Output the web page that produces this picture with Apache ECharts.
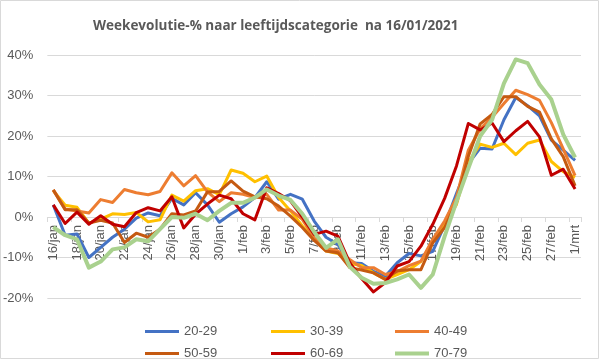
<!DOCTYPE html>
<html>
<head>
<meta charset="utf-8">
<script src="https://cdn.jsdelivr.net/npm/echarts@6/dist/echarts.min.js"></script>
<style>
html,body{margin:0;padding:0;background:#fff;}
#chart{width:599px;height:359px;}
</style>
</head>
<body>
<div id="chart"></div>
<script>
var categories = ['16/jan','17/jan','18/jan','19/jan','20/jan','21/jan','22/jan','23/jan','24/jan','25/jan','26/jan','27/jan','28/jan','29/jan','30/jan','31/jan',
  '1/feb','2/feb','3/feb','4/feb','5/feb','6/feb','7/feb','8/feb','9/feb','10/feb','11/feb','12/feb','13/feb','14/feb','15/feb','16/feb','17/feb','18/feb','19/feb','20/feb','21/feb','22/feb','23/feb','24/feb','25/feb','26/feb','27/feb','28/feb','1/mrt'];

var seriesNames = ['20-29','30-39','40-49','50-59','60-69','70-79'];

var v2029 = [3,-4.5,-4.2,-10,-7.5,-5,-3,-0.3,1,0.3,4.6,3,6,3,-1.3,0.8,2.5,4.8,8.7,4.4,5.6,4.4,-1,-5,-6.8,-11.3,-11.5,-13.4,-14.6,-11.3,-9,-9.6,-8.5,-2,5.8,13.2,17,16.8,24,29.5,27.5,25,19,16.5,14];
var v3039 = [6.5,2.9,2.4,-1.5,-0.5,0.8,0.6,1.1,-1.2,-0.7,5.4,3.9,6.5,7,5.5,11.6,10.8,8.7,10.1,4.8,1.5,-2.2,-5.5,-8.4,-9,-11.5,-12,-13.8,-15.4,-14.2,-13,-11,-6,-2,3.1,13.5,18,17.2,18.2,15.4,18.2,19,13.7,11.2,9.8];
var v4049 = [6.7,2,1.5,1,4.3,3.6,6.8,6,5.5,6.3,10.9,7.7,10.2,6.2,3.8,6,5.6,4.8,5.6,1.7,1.7,-0.6,-5.2,-7.6,-8.4,-10.5,-12.5,-12.5,-14.2,-13.5,-12,-10.9,-5.5,-1,4.8,16.5,21.8,24.6,28,31.3,30.2,28.8,23.3,16.8,10.2];
var v5059 = [6.7,1.8,1.8,-1.5,-0.8,-1.5,-6.3,-4,-5,-3,0.8,0.5,1.5,6.2,6.3,8.9,6.4,5,4.5,2.7,0.2,-2.6,-5.8,-8.4,-8.8,-12.5,-13.1,-13.8,-15.4,-13.3,-13,-13,-6.4,-2.6,3.6,15,23,25.3,29.7,29.7,27.3,25.9,19.3,14.9,7.7];
var v6069 = [3,-1.6,1.2,-1.8,0.3,-1.8,-2.4,1.1,2.3,1.5,5,-2.7,0.7,3.2,5.4,4.5,0.8,-0.7,7.2,5.8,4,0,-4.3,-3.5,-4.7,-11.3,-15.2,-18.5,-16.2,-12.1,-11,-7.2,-1.8,4.6,12.6,23.1,21.5,23.2,18.6,21.3,23.6,19.8,10.3,11.8,6.9];
var v7079 = [-2.5,-4.5,-5.5,-12.5,-11,-8,-7.5,-5.5,-6,-3,0,-0.2,0.8,-0.8,1.5,3.5,3.5,4.8,6.8,5.3,4.2,0.8,-3.7,-7.6,-5.5,-12.3,-15,-16.5,-16.3,-15.4,-14.2,-17.5,-14.2,-4.8,3.8,12,20,24,33,38.9,38,32.7,29,20.4,14.7];

var yTicks = [-20,-10,0,10,20,30,40];

var seriesValues = [v2029, v3039, v4049, v5059, v6069, v7079];
var colors = ['#4472C4','#FFC000','#ED7D31','#C55A11','#C00000','#A9D18E'];
var widths = [3,3,3,3,3,4];

var chart = echarts.init(document.getElementById('chart'), null, {renderer:'canvas'});

var series = seriesNames.map(function(n, k){
  return {
    name: n, type: 'line', data: seriesValues[k], symbol: 'none',
    lineStyle: {color: colors[k], width: widths[k], join: 'round'},
    itemStyle: {color: colors[k]},
    z: 2 + k
  };
});

var legendPos = [[140,320],[266,320],[390,320],[140,342],[266,342],[390,342]];
var legends = seriesNames.map(function(n, k){
  return {
    data: [n], left: legendPos[k][0], top: legendPos[k][1],
    icon: 'rect', itemWidth: 34, itemHeight: widths[k], itemGap: 4,
    textStyle: {color:'#595959', fontSize: 13, fontFamily: 'Liberation Sans'},
    selectedMode: false
  };
});

var gridTop = 55, gridBottom = 61, chartH = 359;
var plotH = chartH - gridTop - gridBottom;
var zeroOffset = plotH * (0 - yTicks[0]) / (yTicks[yTicks.length-1] - yTicks[0]);

chart.setOption({
  animation: false,
  color: colors,
  title: {
    text: 'Weekevolutie-% naar leeftijdscategorie  na 16/01/2021',
    left: 88, top: 14,
    textStyle: {color:'#595959', fontSize: 13.5, fontWeight: 'bold', fontFamily: 'Open Sans'}
  },
  legend: legends,
  grid: {left: 47, right: 18, top: gridTop, bottom: gridBottom},
  xAxis: {
    type: 'category', data: categories, boundaryGap: true,
    offset: -zeroOffset,
    axisLine: {onZero: false, lineStyle: {color:'#d9d9d9', width: 1}},
    axisTick: {show: true, interval: 1, length: 5, lineStyle: {color:'#d9d9d9'}},
    axisLabel: {interval: 1, rotate: 90, margin: 8, color:'#595959', fontSize: 13, fontFamily: 'Liberation Sans'}
  },
  yAxis: {
    type: 'value', min: yTicks[0], max: yTicks[yTicks.length-1], interval: 10,
    axisLine: {show: false}, axisTick: {show: false},
    splitLine: {lineStyle: {color:'#d9d9d9', width: 1}},
    axisLabel: {formatter: '{value}%', color:'#595959', fontSize: 13, margin: 14, fontFamily: 'Liberation Sans'}
  },
  graphic: [{type:'rect', shape:{x:0.5,y:0.5,width:598,height:358}, style:{fill:'none', stroke:'#d9d9d9', lineWidth:1}, silent:true}],
  series: series
});
</script>
</body>
</html>
